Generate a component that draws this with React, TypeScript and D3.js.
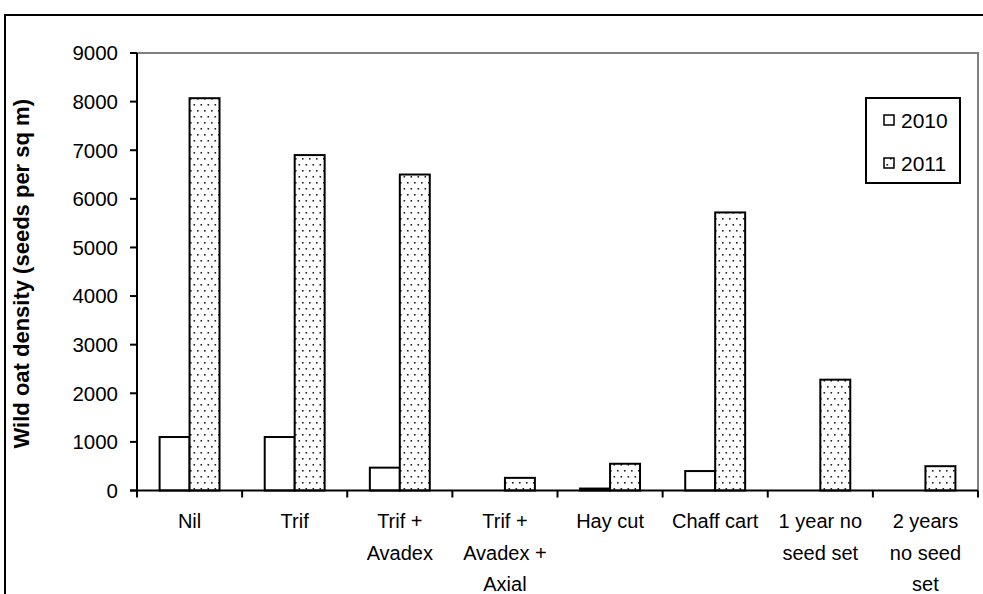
import React, { useEffect, useRef } from 'react';
import * as d3 from 'd3';

const categories = [
  ['Nil'],
  ['Trif'],
  ['Trif +', 'Avadex'],
  ['Trif +', 'Avadex +', 'Axial'],
  ['Hay cut'],
  ['Chaff cart'],
  ['1 year no', 'seed set'],
  ['2 years', 'no seed', 'set'],
];
const seriesNames = ['2010', '2011'];
const values2010 = [1100, 1100, 470, 0, 40, 400, 0, 0];
const values2011 = [8070, 6900, 6500, 260, 550, 5720, 2280, 500];
const yTicks = [0, 1000, 2000, 3000, 4000, 5000, 6000, 7000, 8000, 9000];

const W = 983;
const H = 594;
const FONT = '"Liberation Sans", Arial, sans-serif';

const App: React.FC = () => {
  const svgRef = useRef<SVGSVGElement>(null);

  useEffect(() => {
    if (!svgRef.current) return;
    const svg = d3.select(svgRef.current);
    svg.selectAll('*').remove();

    const left = 137;
    const right = 978;
    const top = 53;
    const bottom = 490.5;

    const defs = svg.append('defs');
    const pat = defs.append('pattern')
      .attr('id', 'dots')
      .attr('patternUnits', 'userSpaceOnUse')
      .attr('width', 7)
      .attr('height', 12);
    pat.append('rect').attr('width', 7).attr('height', 12).attr('fill', '#fff');
    pat.append('rect').attr('x', 1).attr('y', 2).attr('width', 1.6).attr('height', 1.6).attr('fill', '#222');
    pat.append('rect').attr('x', 4.5).attr('y', 8).attr('width', 1.6).attr('height', 1.6).attr('fill', '#222');

    // outer frame
    svg.append('rect')
      .attr('x', 5).attr('y', 15)
      .attr('width', W + 20).attr('height', H + 20)
      .attr('fill', 'none').attr('stroke', '#000').attr('stroke-width', 2);

    const x = d3.scaleBand<number>()
      .domain(d3.range(categories.length))
      .range([left, right])
      .paddingInner(0.43)
      .paddingOuter(0.215);
    const step = x.step();
    const x0 = (i: number) => left + i * step;
    const xs = d3.scaleBand<string>()
      .domain(seriesNames)
      .range([0, x.bandwidth()]);
    const y = d3.scaleLinear().domain([0, 9000]).range([bottom, top]);

    // plot border (gray) top + right
    svg.append('path')
      .attr('d', `M${left},${top}H${right}V${bottom}`)
      .attr('fill', 'none').attr('stroke', '#808080').attr('stroke-width', 2);

    const series = [values2010, values2011];
    series.forEach((vals, s) => {
      svg.append('g').selectAll('rect')
        .data(vals)
        .join('rect')
        .attr('x', (_, i) => (x(i) as number) + (xs(seriesNames[s]) as number))
        .attr('y', d => y(d))
        .attr('width', xs.bandwidth())
        .attr('height', d => bottom - y(d))
        .attr('fill', s === 0 ? '#fff' : 'url(#dots)')
        .attr('stroke', '#000')
        .attr('stroke-width', 2);
    });

    // y axis
    svg.append('line')
      .attr('x1', left).attr('x2', left).attr('y1', top).attr('y2', bottom)
      .attr('stroke', '#000').attr('stroke-width', 2);
    const yt = svg.append('g');
    yTicks.forEach(t => {
      yt.append('line')
        .attr('x1', left - 7).attr('x2', left).attr('y1', y(t)).attr('y2', y(t))
        .attr('stroke', '#000').attr('stroke-width', 2);
      yt.append('text')
        .attr('x', left - 19).attr('y', y(t)).attr('dy', '0.36em')
        .attr('text-anchor', 'end')
        .attr('font-family', FONT).attr('font-size', 20.5)
        .text(t);
    });

    // x axis
    svg.append('line')
      .attr('x1', left - 7).attr('x2', right).attr('y1', bottom).attr('y2', bottom)
      .attr('stroke', '#000').attr('stroke-width', 2);
    d3.range(categories.length + 1).forEach(i => {
      svg.append('line')
        .attr('x1', x0(i)).attr('x2', x0(i)).attr('y1', bottom).attr('y2', bottom + 7)
        .attr('stroke', '#000').attr('stroke-width', 2);
    });
    categories.forEach((lines, i) => {
      const t = svg.append('text')
        .attr('font-family', FONT).attr('font-size', 20)
        .attr('text-anchor', 'middle');
      lines.forEach((ln, k) => {
        t.append('tspan')
          .attr('x', x0(i) + step / 2)
          .attr('y', 528 + k * 31.5)
          .text(ln);
      });
    });

    // y title
    svg.append('text')
      .attr('transform', `translate(29,${(top + bottom) / 2 + 2}) rotate(-90)`)
      .attr('text-anchor', 'middle')
      .attr('font-family', FONT).attr('font-size', 22).attr('font-weight', 'bold')
      .text('Wild oat density (seeds per sq m)');

    // legend
    const lg = svg.append('g');
    lg.append('rect')
      .attr('x', 866).attr('y', 98).attr('width', 94).attr('height', 85)
      .attr('fill', '#fff').attr('stroke', '#000').attr('stroke-width', 2);
    seriesNames.forEach((n, s) => {
      const cy = 120 + s * 43;
      lg.append('rect')
        .attr('x', 884).attr('y', cy - 5).attr('width', 10).attr('height', 10)
        .attr('fill', s === 0 ? '#fff' : 'url(#dots)')
        .attr('stroke', '#000').attr('stroke-width', 1.5);
      lg.append('text')
        .attr('x', 901).attr('y', cy).attr('dy', '0.36em')
        .attr('font-family', FONT).attr('font-size', 21)
        .text(n);
    });
  }, []);

  return (
    <svg
      ref={svgRef}
      width={W}
      height={H}
      style={{ position: 'absolute', left: 0, top: 0, background: '#fff' }}
    />
  );
};

export default App;
